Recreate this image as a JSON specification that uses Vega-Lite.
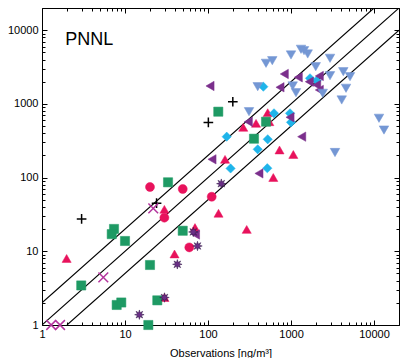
{
  "$schema": "https://vega.github.io/schema/vega-lite/v6.json",
  "width": 357,
  "height": 317,
  "autosize": "none",
  "padding": {"left": 42, "top": 8, "right": 1, "bottom": 33},
  "background": "white",
  "config": {
    "view": {"stroke": "black", "strokeWidth": 1},
    "font": "Liberation Sans",
    "axis": {
      "domainColor": "black",
      "tickColor": "black",
      "labelColor": "black",
      "titleColor": "black",
      "grid": false,
      "labelFlush": false,
      "labelOverlap": false,
      "labelFont": "Liberation Sans",
      "titleFont": "Liberation Sans",
      "labelFontSize": 11,
      "titleFontSize": 11,
      "titleFontWeight": "normal"
    }
  },
  "datasets": {
    "lines": [
      {"x": 1, "y": 1, "x2": 20000, "y2": 20000},
      {"x": 1, "y": 2, "x2": 10000, "y2": 20000},
      {"x": 2, "y": 1, "x2": 20000, "y2": 10000}
    ],
    "pts": [
      {"s": "plus", "x": 3.0, "y": 27.5},
      {"s": "plus", "x": 24, "y": 45},
      {"s": "plus", "x": 101, "y": 560},
      {"s": "plus", "x": 199, "y": 1070},

      {"s": "circle", "x": 20.0, "y": 74.5},
      {"s": "circle", "x": 49.6, "y": 70},
      {"s": "circle", "x": 29.8, "y": 28.6},
      {"s": "circle", "x": 110.8, "y": 55},
      {"s": "circle", "x": 59.5, "y": 11.3},

      {"s": "tri", "x": 1.98, "y": 8.0},
      {"s": "tri", "x": 29.8, "y": 37.1},
      {"s": "tri", "x": 39.5, "y": 9.2},
      {"s": "tri", "x": 69.7, "y": 21.0},
      {"s": "tri", "x": 29.9, "y": 2.36},
      {"s": "tri", "x": 133.9, "y": 32.8},
      {"s": "tri", "x": 292.6, "y": 19.8},
      {"s": "tri", "x": 612, "y": 100.3},
      {"s": "tri", "x": 160.3, "y": 177},
      {"s": "tri", "x": 727, "y": 237},
      {"s": "tri", "x": 1066, "y": 206},
      {"s": "tri", "x": 266, "y": 481},
      {"s": "tri", "x": 379, "y": 545},
      {"s": "tri", "x": 524, "y": 760},
      {"s": "tri", "x": 548, "y": 573},

      {"s": "square", "x": 33.0, "y": 86.3},
      {"s": "square", "x": 7.37, "y": 20.1},
      {"s": "square", "x": 6.92, "y": 17.1},
      {"s": "square", "x": 10, "y": 13.8},
      {"s": "square", "x": 49.6, "y": 19.0},
      {"s": "square", "x": 20, "y": 6.52},
      {"s": "square", "x": 2.97, "y": 3.44},
      {"s": "square", "x": 7.94, "y": 1.87},
      {"s": "square", "x": 9.02, "y": 2.02},
      {"s": "square", "x": 24.5, "y": 2.16},
      {"s": "square", "x": 19.1, "y": 1.0},
      {"s": "square", "x": 133, "y": 784},
      {"s": "square", "x": 500, "y": 573},
      {"s": "square", "x": 358, "y": 337},

      {"s": "diamond", "x": 168, "y": 359},
      {"s": "diamond", "x": 524, "y": 331},
      {"s": "diamond", "x": 397, "y": 242},
      {"s": "diamond", "x": 187, "y": 133},
      {"s": "diamond", "x": 518, "y": 134},
      {"s": "diamond", "x": 464, "y": 1711},
      {"s": "diamond", "x": 624, "y": 745},
      {"s": "diamond", "x": 973, "y": 745},
      {"s": "diamond", "x": 1000, "y": 562},
      {"s": "diamond", "x": 1694, "y": 2225},
      {"s": "diamond", "x": 2040, "y": 2065},

      {"s": "left", "x": 105.7, "y": 1750},
      {"s": "left", "x": 737, "y": 1680},
      {"s": "left", "x": 830, "y": 2546},
      {"s": "left", "x": 1224, "y": 2296},
      {"s": "left", "x": 2193, "y": 2392},
      {"s": "left", "x": 1661, "y": 2001},
      {"s": "left", "x": 2040, "y": 1805},
      {"s": "left", "x": 2193, "y": 1544},
      {"s": "left", "x": 306, "y": 573},
      {"s": "left", "x": 973, "y": 658},
      {"s": "left", "x": 1345, "y": 359},
      {"s": "left", "x": 111.7, "y": 177},
      {"s": "left", "x": 411, "y": 114},
      {"s": "left", "x": 70.7, "y": 16.9},

      {"s": "star", "x": 144.6, "y": 82.7},
      {"s": "star", "x": 66.5, "y": 18.3},
      {"s": "star", "x": 74.7, "y": 11.8},
      {"s": "star", "x": 42.7, "y": 6.66},
      {"s": "star", "x": 29.9, "y": 2.36},
      {"s": "star", "x": 14.9, "y": 1.38},

      {"s": "xmark", "x": 21.9, "y": 38.3},
      {"s": "xmark", "x": 5.48, "y": 4.44},
      {"s": "xmark", "x": 1.29, "y": 1.0},
      {"s": "xmark", "x": 1.65, "y": 1.0},

      {"s": "down", "x": 500, "y": 3556},
      {"s": "down", "x": 595, "y": 3855},
      {"s": "down", "x": 1000, "y": 4610},
      {"s": "down", "x": 1320, "y": 5508},
      {"s": "down", "x": 1435, "y": 5270},
      {"s": "down", "x": 1589, "y": 4755},
      {"s": "down", "x": 2951, "y": 4155},
      {"s": "down", "x": 1985, "y": 3198},
      {"s": "down", "x": 2951, "y": 2414},
      {"s": "down", "x": 4267, "y": 2735},
      {"s": "down", "x": 5138, "y": 2340},
      {"s": "down", "x": 397, "y": 1711},
      {"s": "down", "x": 1048, "y": 1750},
      {"s": "down", "x": 1148, "y": 1419},
      {"s": "down", "x": 2410, "y": 1393},
      {"s": "down", "x": 4600, "y": 1629},
      {"s": "down", "x": 4083, "y": 1130},
      {"s": "down", "x": 312, "y": 784},
      {"s": "down", "x": 3388, "y": 219},
      {"s": "down", "x": 11480, "y": 638},
      {"s": "down", "x": 13190, "y": 442}
    ],
    "label": [{"x": 1.9, "y": 6300, "t": "PNNL"}]
  },
  "layer": [
    {
      "data": {"name": "lines"},
      "mark": {"type": "rule", "color": "black", "strokeWidth": 1.1, "clip": true},
      "encoding": {
        "x": {
          "field": "x", "type": "quantitative",
          "scale": {"type": "log", "domain": [1, 20000], "nice": false},
          "axis": {
            "orient": "top", "labels": false, "title": null, "domain": false,
            "values": [1,2,3,4,5,6,7,8,9,10,20,30,40,50,60,70,80,90,100,200,300,400,500,600,700,800,900,1000,2000,3000,4000,5000,6000,7000,8000,9000,10000,20000],
            "tickSize": {"condition": {"test": "indexof([1,10,100,1000,10000], datum.value) >= 0", "value": -5}, "value": -3}
          }
        },
        "x2": {"field": "x2"},
        "y": {
          "field": "y", "type": "quantitative",
          "scale": {"type": "log", "domain": [1, 20000], "nice": false},
          "axis": {
            "orient": "right", "labels": false, "title": null, "domain": false,
            "values": [1,2,3,4,5,6,7,8,9,10,20,30,40,50,60,70,80,90,100,200,300,400,500,600,700,800,900,1000,2000,3000,4000,5000,6000,7000,8000,9000,10000,20000],
            "tickSize": {"condition": {"test": "indexof([1,10,100,1000,10000], datum.value) >= 0", "value": -5}, "value": -3}
          }
        },
        "y2": {"field": "y2"}
      }
    },
    {
      "data": {"name": "pts"},
      "transform": [{"filter": "datum.s != 'plus' && datum.s != 'xmark'"}],
      "mark": {"type": "point", "filled": true, "opacity": 1, "strokeWidth": 0.5},
      "encoding": {
        "x": {
          "field": "x", "type": "quantitative",
          "scale": {"type": "log", "domain": [1, 20000], "nice": false},
          "axis": {
            "orient": "bottom", "title": "Observations [ng/m³]", "domain": false,
            "values": [1,2,3,4,5,6,7,8,9,10,20,30,40,50,60,70,80,90,100,200,300,400,500,600,700,800,900,1000,2000,3000,4000,5000,6000,7000,8000,9000,10000,20000],
            "format": "d",
            "labelExpr": "indexof([1,10,100,1000,10000], datum.value) >= 0 ? datum.label : ''",
            "labelPadding": 8.5,
            "titlePadding": 6,
            "tickSize": {"condition": {"test": "indexof([1,10,100,1000,10000], datum.value) >= 0", "value": -5}, "value": -3}
          }
        },
        "y": {
          "field": "y", "type": "quantitative",
          "scale": {"type": "log", "domain": [1, 20000], "nice": false},
          "axis": {
            "orient": "left", "title": null, "domain": false,
            "values": [1,2,3,4,5,6,7,8,9,10,20,30,40,50,60,70,80,90,100,200,300,400,500,600,700,800,900,1000,2000,3000,4000,5000,6000,7000,8000,9000,10000,20000],
            "format": "d",
            "labelExpr": "indexof([1,10,100,1000,10000], datum.value) >= 0 ? datum.label : ''",
            "labelPadding": 9,
            "tickSize": {"condition": {"test": "indexof([1,10,100,1000,10000], datum.value) >= 0", "value": -5}, "value": -3}
          }
        },
        "shape": {
          "field": "s", "type": "nominal", "legend": null,
          "scale": {
            "domain": ["circle", "tri", "square", "diamond", "left", "star", "down", "plus", "xmark"],
            "range": ["circle", "triangle-up", "square", "diamond", "triangle-left",
              "M1,0L0.416,0.172L0.707,0.707L0.172,0.416L0,1L-0.172,0.416L-0.707,0.707L-0.416,0.172L-1,0L-0.416,-0.172L-0.707,-0.707L-0.172,-0.416L0,-1L0.172,-0.416L0.707,-0.707L0.416,-0.172Z",
              "triangle-down", "M-1,0L1,0M0,-1L0,1", "M-1,-1L1,1M-1,1L1,-1"]
          }
        },
        "fill": {
          "field": "s", "type": "nominal", "legend": null,
          "scale": {
            "domain": ["circle", "tri", "square", "diamond", "left", "star", "down", "plus", "xmark"],
            "range": ["#e8125c", "#e8125c", "#1e9a64", "#1eb4ea", "#7b2f8c", "#6a2e86", "#7497d4", "transparent", "transparent"]
          }
        },
        "stroke": {
          "field": "s", "type": "nominal", "legend": null,
          "scale": {
            "domain": ["circle", "tri", "square", "diamond", "left", "star", "down", "plus", "xmark"],
            "range": ["#e8125c", "#e8125c", "#1e9a64", "#1eb4ea", "#7b2f8c", "#2e1444", "#7497d4", "#000000", "#b4359e"]
          }
        },
        "size": {
          "field": "s", "type": "nominal", "legend": null,
          "scale": {
            "domain": ["circle", "tri", "square", "diamond", "left", "star", "down", "plus", "xmark"],
            "range": [81, 95, 64, 80, 85, 110, 105, 110, 45]
          }
        }
      }
    },
    {
      "data": {"name": "pts"},
      "transform": [{"filter": "datum.s == 'plus' || datum.s == 'xmark'"}],
      "mark": {"type": "point", "filled": false, "opacity": 1, "strokeWidth": 1.5},
      "encoding": {
        "x": {"field": "x", "type": "quantitative", "scale": {"type": "log", "domain": [1, 20000], "nice": false}, "axis": null},
        "y": {"field": "y", "type": "quantitative", "scale": {"type": "log", "domain": [1, 20000], "nice": false}, "axis": null},
        "shape": {
          "field": "s", "type": "nominal", "legend": null,
          "scale": {
            "domain": ["circle", "tri", "square", "diamond", "left", "star", "down", "plus", "xmark"],
            "range": ["circle", "triangle-up", "square", "diamond", "triangle-left",
              "M1,0L0.416,0.172L0.707,0.707L0.172,0.416L0,1L-0.172,0.416L-0.707,0.707L-0.416,0.172L-1,0L-0.416,-0.172L-0.707,-0.707L-0.172,-0.416L0,-1L0.172,-0.416L0.707,-0.707L0.416,-0.172Z",
              "triangle-down", "M-1,0L1,0M0,-1L0,1", "M-1,-1L1,1M-1,1L1,-1"]
          }
        },
        "stroke": {
          "field": "s", "type": "nominal", "legend": null,
          "scale": {
            "domain": ["circle", "tri", "square", "diamond", "left", "star", "down", "plus", "xmark"],
            "range": ["#e8125c", "#e8125c", "#1e9a64", "#1eb4ea", "#7b2f8c", "#2e1444", "#7497d4", "#000000", "#b4359e"]
          }
        },
        "size": {
          "field": "s", "type": "nominal", "legend": null,
          "scale": {
            "domain": ["circle", "tri", "square", "diamond", "left", "star", "down", "plus", "xmark"],
            "range": [81, 95, 64, 80, 85, 110, 105, 110, 45]
          }
        }
      }
    },
    {
      "data": {"name": "label"},
      "mark": {"type": "text", "align": "left", "baseline": "alphabetic", "fontSize": 18, "font": "Liberation Sans", "color": "black"},
      "encoding": {
        "x": {"field": "x", "type": "quantitative", "scale": {"type": "log", "domain": [1, 20000], "nice": false}, "axis": null},
        "y": {"field": "y", "type": "quantitative", "scale": {"type": "log", "domain": [1, 20000], "nice": false}, "axis": null},
        "text": {"field": "t"}
      }
    }
  ],
  "resolve": {"axis": {"x": "independent", "y": "independent"}}
}
